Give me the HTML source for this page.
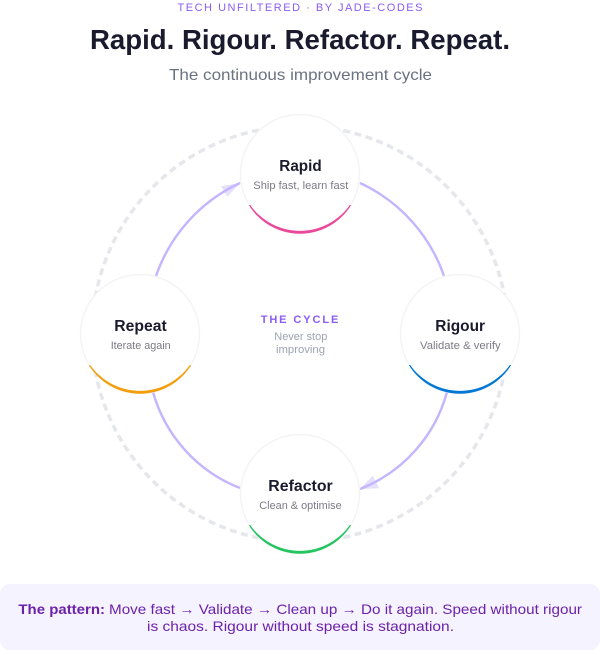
<!DOCTYPE html>
<html lang="en">
<head>
<meta charset="utf-8">
<title>Rapid. Rigour. Refactor. Repeat.</title>
<style>
html,body{margin:0;padding:0;background:#fff;width:600px;height:650px;overflow:hidden}
svg{display:block}
text{font-family:"Liberation Sans",sans-serif}
.nt{font-size:16px;font-weight:700;fill:#1a1a2e}
.ns{font-size:11px;fill:#7b7b85}
.c{font-size:11px;fill:#9ca3af}
.p{font-size:14px;fill:#6b21a8}
</style>
</head>
<body>
<svg width="600" height="650" viewBox="0 0 600 650" xmlns="http://www.w3.org/2000/svg">
<rect width="600" height="650" fill="#fff"/>
<text x="177.5" y="11" font-size="11" fill="#8b5cf6" textLength="245">TECH UNFILTERED · BY JADE-CODES</text>
<text x="90" y="49" font-size="28" font-weight="700" fill="#1a1a2e" textLength="420" lengthAdjust="spacingAndGlyphs">Rapid. Rigour. Refactor. Repeat.</text>
<text x="169" y="80" font-size="16" fill="#6b7280" textLength="263" lengthAdjust="spacingAndGlyphs">The continuous improvement cycle</text>

<circle cx="300" cy="334" r="208" fill="none" stroke="#e5e7eb" stroke-width="3.5" stroke-dasharray="7 4.5"/>

<polygon points="360,489 372.7,475.7 379.3,488.3" fill="#e6e0fd"/>
<polygon points="240,183.3 221,186 227.3,196.7" fill="#e6e0fd"/>
<g fill="none" stroke="#c4b5fd" stroke-width="2.4">
<path d="M360 183A160 160 0 0 1 444 276"/>
<path d="M447 392A145 145 0 0 1 360 489"/>
<path d="M240 488A145 145 0 0 1 153 392"/>
<path d="M156 276A160 160 0 0 1 240 183"/>
</g>

<g fill="#fff" stroke="#f3f4f6" stroke-width="1.5">
<circle cx="300" cy="174" r="59.5"/>
<circle cx="460" cy="334" r="59.5"/>
<circle cx="300" cy="494" r="59.5"/>
<circle cx="140" cy="334" r="59.5"/>
</g>
<path d="M248.8 205A60 60 0 0 0 351.2 205L349.8 205A60.9 60.9 0 0 1 250.2 205Z" fill="#ec4899"/>
<path d="M408.8 365A60 60 0 0 0 511.2 365L509.8 365A60.9 60.9 0 0 1 410.2 365Z" fill="#0078d4"/>
<path d="M248.8 525A60 60 0 0 0 351.2 525L349.8 525A60.9 60.9 0 0 1 250.2 525Z" fill="#22c55e"/>
<path d="M88.8 365A60 60 0 0 0 191.2 365L189.8 365A60.9 60.9 0 0 1 90.2 365Z" fill="#f59e0b"/>

<text class="nt" x="279.3" y="171" textLength="42.4" lengthAdjust="spacingAndGlyphs">Rapid</text>
<text class="ns" x="253.3" y="189" textLength="95" lengthAdjust="spacingAndGlyphs">Ship fast, learn fast</text>
<text class="nt" x="435.3" y="331" textLength="49.7" lengthAdjust="spacingAndGlyphs">Rigour</text>
<text class="ns" x="420" y="349" textLength="80.7" lengthAdjust="spacingAndGlyphs">Validate &amp; verify</text>
<text class="nt" x="268.3" y="491" textLength="64.4" lengthAdjust="spacingAndGlyphs">Refactor</text>
<text class="ns" x="259.3" y="509" textLength="82.4" lengthAdjust="spacingAndGlyphs">Clean &amp; optimise</text>
<text class="nt" x="114.3" y="331" textLength="52.4" lengthAdjust="spacingAndGlyphs">Repeat</text>
<text class="ns" x="110.7" y="349" textLength="60" lengthAdjust="spacingAndGlyphs">Iterate again</text>

<text x="260.7" y="323" font-size="11" font-weight="700" fill="#8b5cf6" textLength="77.6">THE CYCLE</text>
<text class="c" x="274.3" y="340" textLength="53" lengthAdjust="spacingAndGlyphs">Never stop</text>
<text class="c" x="276" y="353" textLength="49" lengthAdjust="spacingAndGlyphs">improving</text>

<rect x="0" y="584" width="600" height="66" rx="10" fill="#f5f3ff"/>
<text class="p" x="18.4" y="614" font-weight="700" textLength="86.6" lengthAdjust="spacingAndGlyphs">The pattern:</text>
<text class="p" x="109" y="614" textLength="473" lengthAdjust="spacingAndGlyphs">Move fast → Validate → Clean up → Do it again. Speed without rigour</text>
<text class="p" x="147" y="631" textLength="307" lengthAdjust="spacingAndGlyphs">is chaos. Rigour without speed is stagnation.</text>
</svg>
</body>
</html>
